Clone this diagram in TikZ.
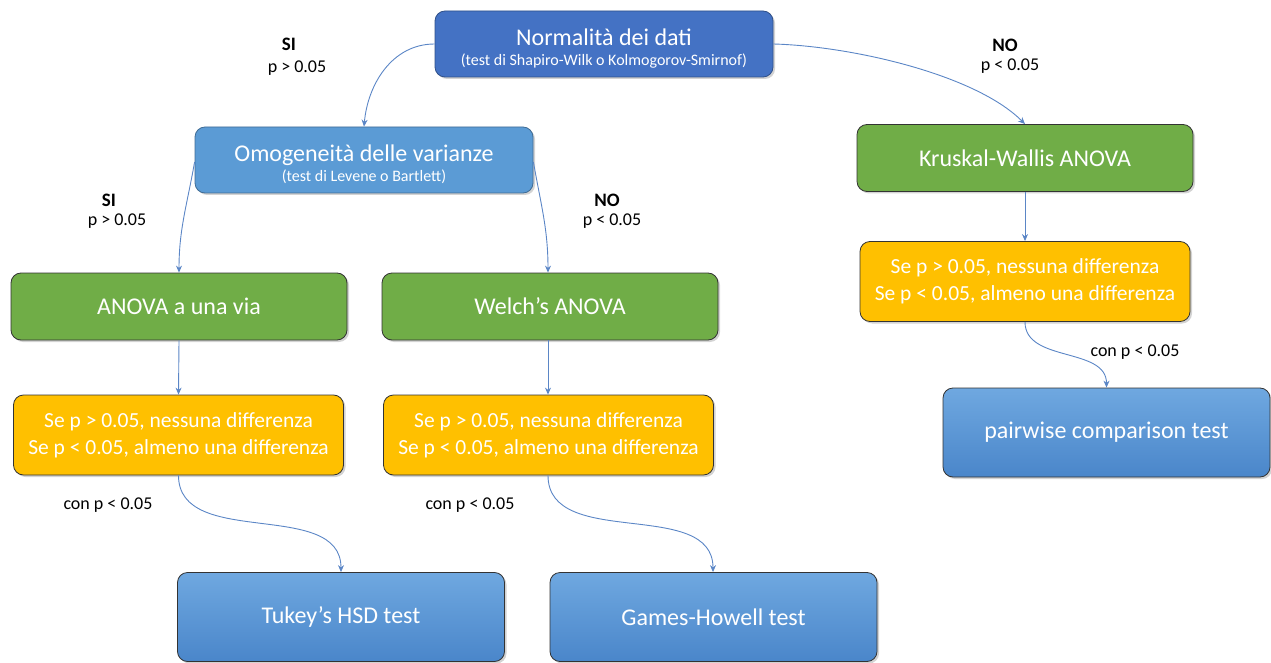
\documentclass[tikz,border=0pt]{standalone}
\usepackage{fontspec}
\setmainfont{Carlito}
\usetikzlibrary{arrows.meta,shadows}

\definecolor{darkblue}{HTML}{4472C4}
\definecolor{lightblue}{HTML}{5B9BD5}
\definecolor{boxgreen}{HTML}{70AD47}
\definecolor{boxyellow}{HTML}{FFC000}
\definecolor{gradtop}{HTML}{6FA8E0}
\definecolor{gradbot}{HTML}{4A86CA}
\definecolor{linkblue}{HTML}{5B86C6}

\tikzset{
  box/.style={rounded corners=10pt,draw=black!80,line width=0.8pt,
    text=white,align=center,drop shadow={shadow xshift=2pt,shadow yshift=-2pt,opacity=0.35}},
  headbox/.style={box,fill=darkblue,draw=darkblue!70!black,minimum width=338pt,minimum height=66pt,
    font=\fontsize{16}{20}\selectfont},
  varbox/.style={box,fill=lightblue,draw=lightblue!70!black,minimum width=338pt,minimum height=66pt,
    font=\fontsize{16}{20}\selectfont},
  testbox/.style={box,fill=boxgreen,minimum width=336pt,minimum height=67pt,
    font=\fontsize{24}{28}\selectfont},
  resultbox/.style={box,fill=boxyellow,minimum width=330pt,minimum height=80pt,
    font=\fontsize{21.5}{27}\selectfont},
  posthoc/.style={box,top color=gradtop,bottom color=gradbot,draw=black!80,
    minimum width=327pt,minimum height=89pt,font=\fontsize{24}{28}\selectfont},
  link/.style={linkblue,line width=0.9pt,-{Stealth[length=7pt,width=6pt]}},
  answer/.style={font=\fontsize{19}{22}\selectfont\bfseries},
  pval/.style={font=\fontsize{18}{20}\selectfont}
}
\newcommand{\titletext}[1]{\rule{0pt}{26pt}{\fontsize{24}{20}\selectfont #1}}

\begin{document}
\begin{tikzpicture}[x=1pt,y=-1pt]
 \useasboundingbox (0,0) rectangle (1271,663);

 \node[headbox](norm) at (604,44){\titletext{Normalità dei dati}\\
   (test di Shapiro-Wilk o Kolmogorov-Smirnof)};
 \node[varbox](omog) at (364,160){\titletext{Omogeneità delle varianze}\\
   (test di Levene o Bartlett)};

 \node[testbox](anova) at (179,306.5){ANOVA a una via};
 \node[testbox](welch) at (550,306.5){Welch’s ANOVA};
 \node[testbox](kruskal) at (1025,158){Kruskal-Wallis ANOVA};

 \node[resultbox](res1) at (178.5,435){Se p > 0.05, nessuna differenza\\Se p < 0.05, almeno una differenza};
 \node[resultbox](res2) at (548.5,435){Se p > 0.05, nessuna differenza\\Se p < 0.05, almeno una differenza};
 \node[resultbox](res3) at (1025,281.5){Se p > 0.05, nessuna differenza\\Se p < 0.05, almeno una differenza};

 \node[posthoc](tukey) at (341,617){Tukey’s HSD test};
 \node[posthoc](games) at (713.5,617){Games-Howell test};
 \node[posthoc](pairwise) at (1106.5,432.5){pairwise comparison test};

 % etichette
 \node[answer](si1) at (289,44){SI};
 \node[pval](psi1) at (297,68){p > 0.05};
 \node[answer](no1) at (1005,45){NO};
 \node[pval](pno1) at (1010,66){p < 0.05};
 \node[answer](si2) at (109,200){SI};
 \node[pval](psi2) at (117,221){p > 0.05};
 \node[answer](no2) at (607,200){NO};
 \node[pval](pno2) at (612,221){p < 0.05};
 \node[pval](con1) at (108,505){con p < 0.05};
 \node[pval](con2) at (470,505){con p < 0.05};
 \node[pval](con3) at (1135,352){con p < 0.05};

 \draw[link] (norm.west) to[out=180,in=85] (omog.north);
 \draw[link] (norm.east) .. controls +(77,2) and +(-50,-50) .. (kruskal.north);
 \draw[link] ([yshift=-2pt]omog.west) to[out=-100,in=90] (anova.north);
 \draw[link] ([yshift=-2pt]omog.east) to[out=-80,in=90] ([xshift=-2pt]welch.north);

 \draw[link] (anova.south) -- (res1.north);
 \draw[link] ([xshift=-2pt]welch.south) -- ([xshift=-0.5pt]res2.north);
 \draw[link] (kruskal.south) -- (res3.north);

 \draw[link] (res1.south) to[out=-90,in=90,looseness=1] (tukey.north);
 \draw[link] ([xshift=-0.5pt]res2.south) to[out=-90,in=90,looseness=1] ([xshift=-0.5pt]games.north);
 \draw[link] (res3.south) to[out=-90,in=90,looseness=1] (pairwise.north);

\end{tikzpicture}
\end{document}
